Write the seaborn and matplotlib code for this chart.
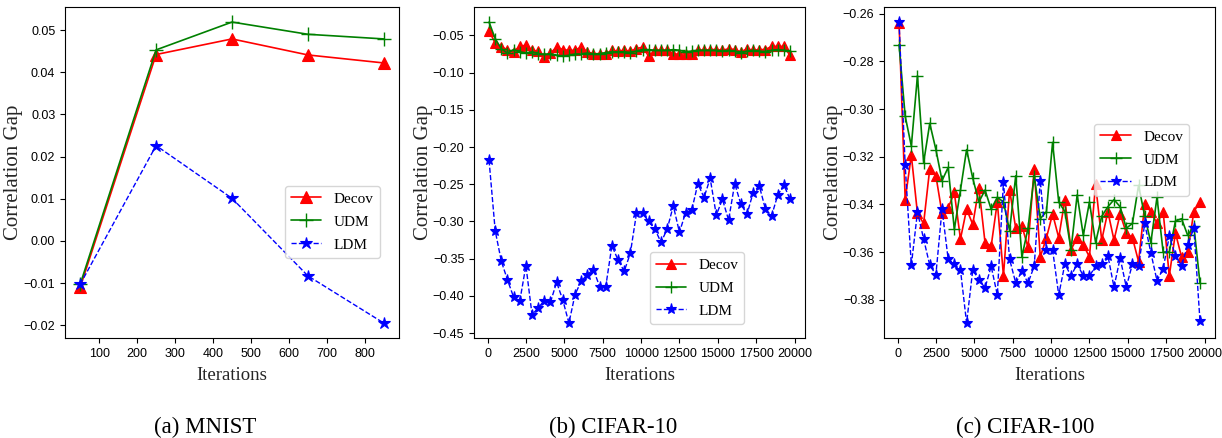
import matplotlib
matplotlib.use('Agg')
import matplotlib.pyplot as plt
import seaborn as sns
sns.set_style('ticks', {'axes.edgecolor': 'black', 'xtick.color': 'black',
                        'ytick.color': 'black', 'text.color': 'black'})
plt.rcParams['font.family'] = ['Liberation Sans', 'DejaVu Sans']
plt.rcParams['xtick.direction'] = 'out'
plt.rcParams['ytick.direction'] = 'out'

# MNIST
mnist_iters = [50, 250, 450, 650, 850]
mnist_decov = [-0.0110, 0.0442, 0.0479, 0.0441, 0.0422]
mnist_udm = [-0.0103, 0.0453, 0.0519, 0.0490, 0.0479]
mnist_ldm = [-0.0103, 0.0226, 0.0101, -0.0083, -0.0195]

# CIFAR (50 evaluations, every 400 iterations starting at 100)
cifar_iters = list(range(100, 20000, 400))

c10_decov = [-0.0442, -0.0600, -0.0656, -0.0690, -0.0723, -0.0643, -0.0634, -0.0700, -0.0710, -0.0790,
             -0.0737, -0.0656, -0.0690, -0.0700, -0.0700, -0.0656, -0.0723, -0.0745, -0.0745, -0.0754,
             -0.0700, -0.0710, -0.0700, -0.0710, -0.0679, -0.0656, -0.0781, -0.0700, -0.0700, -0.0700,
             -0.0745, -0.0754, -0.0745, -0.0745, -0.0700, -0.0700, -0.0690, -0.0690, -0.0700, -0.0679,
             -0.0690, -0.0723, -0.0679, -0.0700, -0.0690, -0.0690, -0.0647, -0.0647, -0.0647, -0.0768]
c10_udm = [-0.0320, -0.0545, -0.0680, -0.0737, -0.0690, -0.0720, -0.0737, -0.0720, -0.0745, -0.0754,
           -0.0745, -0.0768, -0.0780, -0.0768, -0.0750, -0.0750, -0.0737, -0.0750, -0.0745, -0.0730,
           -0.0720, -0.0720, -0.0720, -0.0730, -0.0710, -0.0690, -0.0690, -0.0700, -0.0700, -0.0700,
           -0.0690, -0.0700, -0.0720, -0.0710, -0.0700, -0.0700, -0.0700, -0.0700, -0.0710, -0.0700,
           -0.0710, -0.0737, -0.0710, -0.0700, -0.0710, -0.0720, -0.0700, -0.0690, -0.0700, -0.0710]
c10_ldm = [-0.2179, -0.3125, -0.3536, -0.3786, -0.4018, -0.4071, -0.3594, -0.4254, -0.4161, -0.4063,
           -0.4085, -0.3817, -0.4054, -0.4366, -0.3982, -0.3804, -0.3714, -0.3647, -0.3875, -0.3875,
           -0.3326, -0.3518, -0.3670, -0.3429, -0.2893, -0.2893, -0.3000, -0.3103, -0.3281, -0.3103,
           -0.2790, -0.3147, -0.2880, -0.2848, -0.2491, -0.2679, -0.2420, -0.2915, -0.2701, -0.2982,
           -0.2491, -0.2768, -0.2902, -0.2612, -0.2522, -0.2835, -0.2924, -0.2647, -0.2509, -0.2701]

c100_decov = [-0.2638, -0.3380, -0.3194, -0.3438, -0.3480, -0.3250, -0.3280, -0.3437, -0.3415, -0.3350,
              -0.3545, -0.3420, -0.3484, -0.3330, -0.3560, -0.3575, -0.3390, -0.3700, -0.3340, -0.3500,
              -0.3490, -0.3580, -0.3250, -0.3620, -0.3540, -0.3440, -0.3540, -0.3380, -0.3590, -0.3540,
              -0.3570, -0.3620, -0.3315, -0.3550, -0.3430, -0.3550, -0.3440, -0.3520, -0.3540, -0.3640,
              -0.3400, -0.3430, -0.3480, -0.3430, -0.3700, -0.3520, -0.3620, -0.3600, -0.3430, -0.3390]
c100_udm = [-0.2730, -0.3030, -0.3155, -0.2860, -0.3225, -0.3060, -0.3170, -0.3300, -0.3245, -0.3505,
            -0.3340, -0.3170, -0.3290, -0.3390, -0.3340, -0.3420, -0.3370, -0.3390, -0.3510, -0.3280,
            -0.3620, -0.3500, -0.3280, -0.3460, -0.3430, -0.3140, -0.3390, -0.3430, -0.3590, -0.3360,
            -0.3530, -0.3390, -0.3560, -0.3450, -0.3410, -0.3380, -0.3410, -0.3500, -0.3480, -0.3320,
            -0.3450, -0.3560, -0.3370, -0.3600, -0.3600, -0.3470, -0.3460, -0.3530, -0.3490, -0.3730]
c100_ldm = [-0.2635, -0.3236, -0.3655, -0.3432, -0.3545, -0.3655, -0.3695, -0.3420, -0.3630, -0.3650,
            -0.3675, -0.3898, -0.3675, -0.3716, -0.3750, -0.3660, -0.3780, -0.3306, -0.3630, -0.3730,
            -0.3680, -0.3730, -0.3660, -0.3300, -0.3590, -0.3590, -0.3780, -0.3650, -0.3700, -0.3650,
            -0.3700, -0.3700, -0.3660, -0.3650, -0.3615, -0.3747, -0.3625, -0.3747, -0.3650, -0.3660,
            -0.3480, -0.3603, -0.3720, -0.3670, -0.3533, -0.3615, -0.3657, -0.3570, -0.3500, -0.3890]

captions = ['(a) MNIST', '(b) CIFAR-10', '(c) CIFAR-100']

serif = ['Liberation Serif', 'DejaVu Serif']

fig = plt.figure(figsize=(12.22, 4.38), dpi=100)
axes = [fig.add_axes([0.0532, 0.228, 0.2733, 0.756]),
        fig.add_axes([0.3879, 0.228, 0.2709, 0.756]),
        fig.add_axes([0.7234, 0.228, 0.2709, 0.756])]

panels = [(mnist_iters, mnist_decov, mnist_udm, mnist_ldm, 8),
          (cifar_iters, c10_decov, c10_udm, c10_ldm, 7),
          (cifar_iters, c100_decov, c100_udm, c100_ldm, 7)]

legend_pos = [('lower right', (0.965, 0.22)),
              ('lower right', (0.84, 0.02)),
              ('upper right', (0.945, 0.67))]

for ax, (xs, dec, udm, ldm, ms), (loc, anchor) in zip(axes, panels, legend_pos):
    sns.lineplot(x=xs, y=dec, ax=ax, color='red', marker='^', markersize=ms,
                 markeredgecolor='red', markeredgewidth=0.8, linewidth=1.2, label='Decov')
    sns.lineplot(x=xs, y=udm, ax=ax, color='green', marker='+', markersize=ms + 2,
                 markeredgecolor='green', markeredgewidth=1.0, linewidth=1.2, label='UDM')
    sns.lineplot(x=xs, y=ldm, ax=ax, color='blue', marker='*', markersize=ms + 1,
                 markeredgecolor='blue', markeredgewidth=0.8, linewidth=1.0,
                 linestyle='--', label='LDM')
    ax.set_xlabel('Iterations', family=serif, fontsize=13.5, labelpad=5)
    ax.set_ylabel('Correlation Gap', family=serif, fontsize=15)
    ax.yaxis.set_label_coords(-0.125, 0.5)
    ax.tick_params(labelsize=9)
    ax.legend(loc=loc, bbox_to_anchor=anchor, prop={'family': serif, 'size': 11},
              labelspacing=0.6, handlelength=2.0, fancybox=True, framealpha=0.8)

axes[0].set_xticks([100, 200, 300, 400, 500, 600, 700, 800])
axes[0].set_yticks([-0.02, -0.01, 0.0, 0.01, 0.02, 0.03, 0.04, 0.05])
for ax in axes[1:]:
    ax.set_xticks([0, 2500, 5000, 7500, 10000, 12500, 15000, 17500, 20000])
    ax.set_xlim(-880, 20680)

for xc, cap in zip([0.168, 0.502, 0.839], captions):
    fig.text(xc, 0.023, cap, ha='center', va='center', family=serif, fontsize=16.5)

fig.savefig('out.png', dpi=100)
